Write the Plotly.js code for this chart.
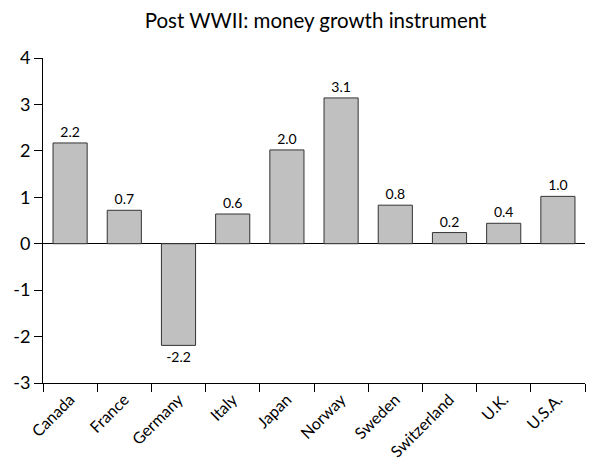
<!DOCTYPE html>
<html>
<head>
<meta charset="utf-8">
<script src="https://cdn.plot.ly/plotly-3.0.1.min.js"></script>
<style>html,body{margin:0;padding:0;background:#fff;}#chart{width:592px;height:466px;}</style>
</head>
<body>
<div id="chart"></div>
<script>
const countries = ["Canada","France","Germany","Italy","Japan","Norway","Sweden","Switzerland","U.K.","U.S.A."];
const values = [2.17, 0.72, -2.19, 0.64, 2.02, 3.14, 0.83, 0.24, 0.44, 1.02];
const yTicks = [-3,-2,-1,0,1,2,3,4];
const titleText = "Post WWII: money growth instrument";

const trace = {
  type: "bar",
  x: countries,
  y: values,
  width: 0.63,
  marker: {color: "#c0c0c0", line: {color: "#333333", width: 1}},
  texttemplate: "%{y:.1f}",
  textposition: "outside",
  textfont: {family: "Lato, sans-serif", size: 14, color: "#000"},
  cliponaxis: false,
  hoverinfo: "none"
};

const layout = {
  width: 592, height: 466,
  margin: {l: 43, r: 7, t: 57.5, b: 83.3},
  paper_bgcolor: "#fff", plot_bgcolor: "#fff",
  showlegend: false,
  font: {family: "Lato, sans-serif", color: "#000"},
  title: {text: titleText, font: {family: "Lato, sans-serif", size: 20.5, color: "#000"},
          x: 0.533, xanchor: "center", y: 0.955, yanchor: "middle"},
  bargap: 0.37,
  xaxis: {
    type: "category",
    showline: true, linecolor: "#000", linewidth: 1,
    ticks: "outside", tickson: "boundaries", ticklen: 8, tickcolor: "#000", tickwidth: 1,
    tickangle: -45, tickfont: {size: 16, color: "#000"},
    showgrid: false, zeroline: false, fixedrange: true
  },
  yaxis: {
    range: [-3, 4], tickvals: yTicks, ticktext: yTicks.map(String),
    showline: true, linecolor: "#000", linewidth: 1,
    ticks: "outside", ticklen: 8, tickcolor: "#000", tickwidth: 1,
    tickfont: {size: 18, color: "#000"},
    showgrid: false, zeroline: true, zerolinecolor: "#000", zerolinewidth: 1,
    fixedrange: true
  }
};

Plotly.newPlot("chart", [trace], layout, {staticPlot: true, displayModeBar: false});
</script>
</body>
</html>
